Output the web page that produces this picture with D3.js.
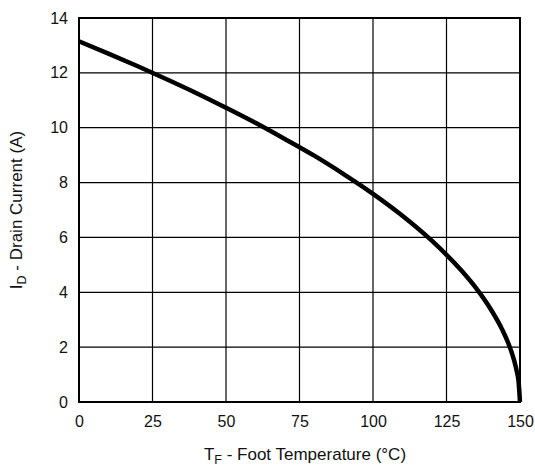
<!DOCTYPE html>
<html>
<head>
<meta charset="utf-8">
<script src="https://cdn.jsdelivr.net/npm/d3@7"></script>
<style>
  body { margin: 0; background: #fff; }
  svg text { font-family: "Liberation Sans", Arial, Helvetica, sans-serif; fill: #111; }
</style>
</head>
<body>
<svg id="chart" width="535" height="468"></svg>
<script>
// Foot temperature (°C) and maximum drain current (A)
const temperature = [0, 10, 20, 30, 40, 50, 60, 70, 80, 90, 100, 110, 120, 130, 135, 140, 144, 146, 148, 149, 149.5, 150];
const drainCurrent = [13.15, 12.70, 12.24, 11.76, 11.26, 10.73, 10.18, 9.59, 8.98, 8.31, 7.59, 6.79, 5.88, 4.80, 4.16, 3.39, 2.63, 2.15, 1.52, 1.07, 0.76, 0];
const xTicks = [0, 25, 50, 75, 100, 125, 150];
const yTicks = [0, 2, 4, 6, 8, 10, 12, 14];

const svg = d3.select("#chart");
const plotLeft = 79, plotRight = 520, plotTop = 18, plotBottom = 402;

const x = d3.scaleLinear().domain([0, 150]).range([plotLeft, plotRight]);
const y = d3.scaleLinear().domain([0, 14]).range([plotBottom, plotTop]);

// grid lines
svg.append("g").selectAll("line").data(xTicks.slice(1, -1)).join("line")
  .attr("x1", d => x(d)).attr("x2", d => x(d))
  .attr("y1", plotTop).attr("y2", plotBottom)
  .attr("stroke", "#000").attr("stroke-width", 1.2);
svg.append("g").selectAll("line").data(yTicks.slice(1, -1)).join("line")
  .attr("x1", plotLeft).attr("x2", plotRight)
  .attr("y1", d => y(d)).attr("y2", d => y(d))
  .attr("stroke", "#000").attr("stroke-width", 1.2);

// frame
svg.append("rect")
  .attr("x", plotLeft).attr("y", plotTop)
  .attr("width", plotRight - plotLeft).attr("height", plotBottom - plotTop)
  .attr("fill", "none").attr("stroke", "#000").attr("stroke-width", 2);

// tick labels via d3 axes (no tick lines / domain)
const xAxis = svg.append("g").attr("transform", `translate(0,${plotBottom})`)
  .call(d3.axisBottom(x).tickValues(xTicks).tickSize(0).tickPadding(14));
const yAxis = svg.append("g").attr("transform", `translate(${plotLeft},0)`)
  .call(d3.axisLeft(y).tickValues(yTicks).tickSize(0).tickPadding(11));
[xAxis, yAxis].forEach(g => {
  g.select(".domain").remove();
  g.selectAll("text").attr("font-size", 16).attr("fill", "#111")
    .attr("font-family", "'Liberation Sans', Arial, sans-serif");
});

// derating curve
const line = d3.line().x((d, i) => x(temperature[i])).y(d => y(d)).curve(d3.curveMonotoneX);
svg.append("path")
  .datum(drainCurrent)
  .attr("d", line)
  .attr("fill", "none").attr("stroke", "#000").attr("stroke-width", 4.5)
  .attr("stroke-linejoin", "round");

// axis titles
const xt = svg.append("text")
  .attr("x", 305).attr("y", 460)
  .attr("text-anchor", "middle").attr("font-size", 17);
xt.append("tspan").text("T");
xt.append("tspan").attr("font-size", 12.5).attr("dy", 4).text("F");
xt.append("tspan").attr("dy", -4).text(" - Foot Temperature (°C)");

const yt = svg.append("text")
  .attr("transform", `translate(22,${(plotTop + plotBottom) / 2}) rotate(-90)`)
  .attr("text-anchor", "middle").attr("font-size", 17);
yt.append("tspan").text("I");
yt.append("tspan").attr("font-size", 12.5).attr("dy", 4).text("D");
yt.append("tspan").attr("dy", -4).text(" - Drain Current (A)");
</script>
</body>
</html>
